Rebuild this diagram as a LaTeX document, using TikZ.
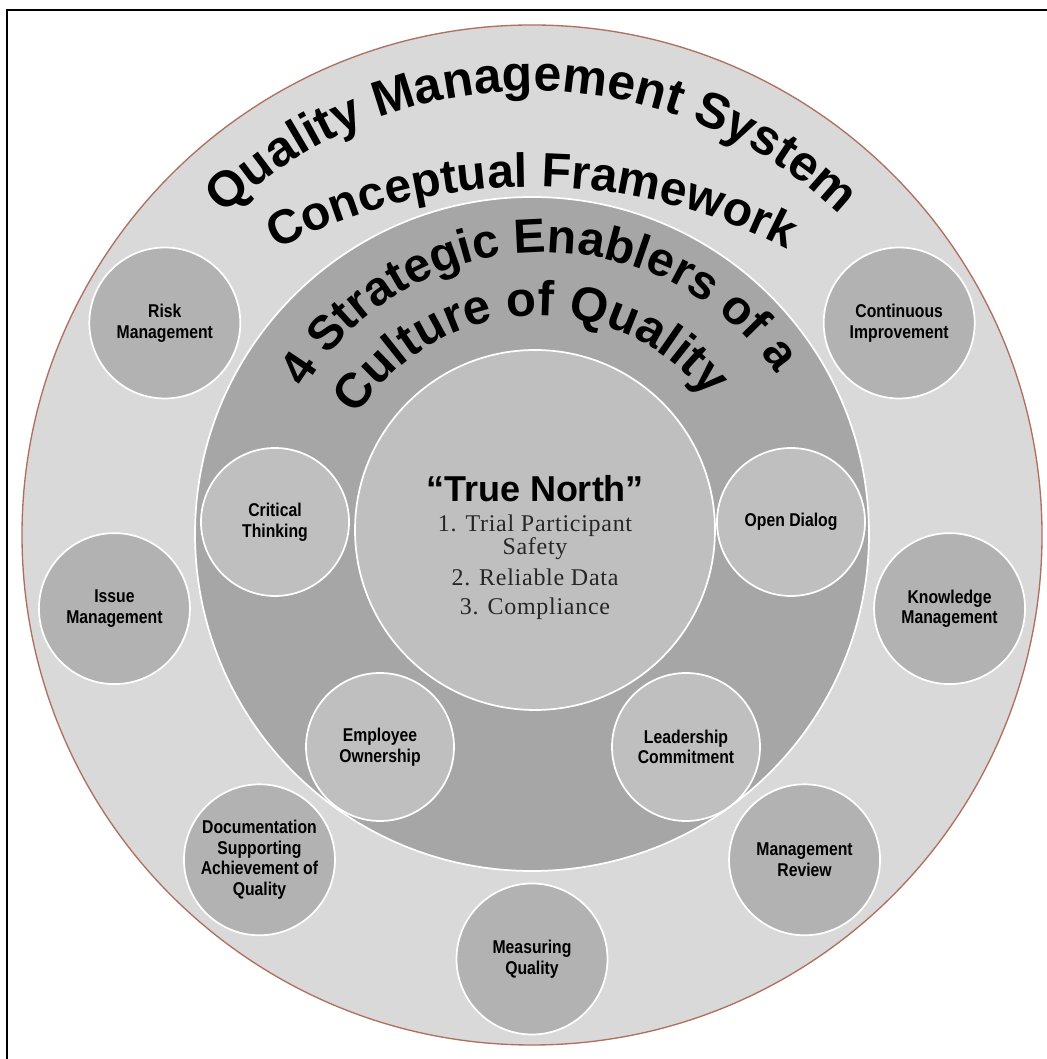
\documentclass[tikz,border=0pt]{standalone}
\usepackage{fontspec}
\setmainfont{Liberation Sans}
\newfontfamily\headfont{Liberation Sans}
\newfontfamily\labelfont[FakeStretch=0.85]{Liberation Sans}
\newfontfamily\listfont[LetterSpace=3]{Liberation Serif}
\usetikzlibrary{decorations.text,calc}

\definecolor{ringedge}{RGB}{176,112,96}
\definecolor{outerfill}{RGB}{217,217,217}
\definecolor{midfill}{RGB}{166,166,166}
\definecolor{innerfill}{RGB}{191,191,191}
\definecolor{pillfill}{RGB}{178,178,178}

\begin{document}
\begin{tikzpicture}[x=0.75pt,y=0.75pt,
  disc/.style={circle, draw=white, line width=1.3pt, inner sep=0pt, align=center,
    font=\labelfont\bfseries\fontsize{13.9}{15.5}\selectfont},
  outerdisc/.style={disc, fill=pillfill, minimum size=113.25pt},
  innerdisc/.style={disc, fill=innerfill, minimum size=111pt},
  listline/.style={anchor=base, text=black!85, font=\listfont\fontsize{18}{18}\selectfont}
]
\useasboundingbox (0,0) rectangle (1046,1059);
\fill[white] (0,0) rectangle (1046,1059);
% page frame
\draw[line width=1.5pt] (7,-20) -- (7,1049) -- (1070,1049);

% concentric rings
\node[circle, draw=ringedge, line width=1pt, fill=outerfill, minimum size=765pt, inner sep=0pt] (outer) at (532,524) {};
\node[circle, draw=white, line width=1.3pt, fill=midfill, minimum size=505.5pt, inner sep=0pt] (middle) at (532,525) {};
\node[circle, draw=white, line width=1.3pt, fill=innerfill, minimum size=270pt, inner sep=0pt] (core) at (535,529) {};

% system elements on the outer ring
\node[outerdisc] (risk) at ($(outer.center)+(150:424)$) {Risk\\Management};
\node[outerdisc] (contimp) at ($(outer.center)+(30:424)$) {Continuous\\Improvement};
\node[outerdisc] (issue) at ($(outer.center)+(190:424)$) {Issue\\Management};
\node[outerdisc] (knowledge) at ($(outer.center)+(-10:424)$) {Knowledge\\Management};
\node[outerdisc] (docs) at ($(outer.center)+(230:424)$) {Documentation\\Supporting\\Achievement of\\Quality};
\node[outerdisc] (review) at ($(outer.center)+(-50:424)$) {Management\\Review};
\node[outerdisc] (measure) at ($(outer.center)+(-90:424)$) {Measuring\\Quality};

% strategic enablers on the middle ring
\node[innerdisc] (critical) at (275,537) {Critical\\Thinking};
\node[innerdisc] (dialog) at (791,537) {Open Dialog};
\node[innerdisc] (employee) at (380,312) {Employee\\Ownership};
\node[innerdisc] (leader) at (686,312) {Leadership\\Commitment};

% core text
\node[anchor=base, font=\headfont\bfseries\fontsize{27}{27}\selectfont] (north) at (535,557) {“True North”};
\node[listline] (goal1) at (535,527) {1. Trial Participant};
\node[listline] (goal1b) at (535,504) {Safety};
\node[listline] (goal2) at (535,473) {2. Reliable Data};
\node[listline] (goal3) at (535,444) {3. Compliance};

% arched titles
\path[decorate, decoration={text along path, text align=center,
  text={|\headfont\bfseries\fontsize{37.5}{37.5}\selectfont|Quality Management System}}]
  ($(532,524)+(170:444)$) arc[start angle=170, end angle=10, radius=444];
\path[decorate, decoration={text along path, text align=center,
  text={|\headfont\bfseries\fontsize{36}{36}\selectfont|Conceptual Framework}}]
  ($(532,320)+(130:552)$) arc[start angle=130, end angle=50, radius=552];
\path[decorate, decoration={text along path, text align=center,
  text={|\headfont\bfseries\fontsize{36}{36}\selectfont|4 Strategic Enablers of a}}]
  ($(545,525.5)+(171.8:281)$) arc[start angle=171.8, end angle=11.8, radius=281];
\path[decorate, decoration={text along path, text align=center,
  text={|\headfont\bfseries\fontsize{36.75}{36.75}\selectfont|Culture of Quality}}]
  ($(539,528)+(173:215)$) arc[start angle=173, end angle=13, radius=215];
\end{tikzpicture}
\end{document}
